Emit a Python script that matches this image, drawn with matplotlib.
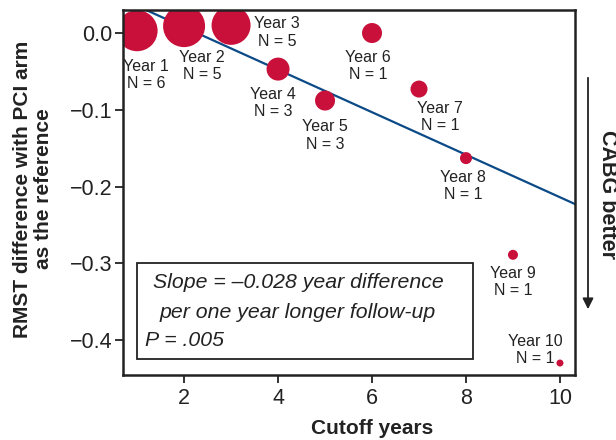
import matplotlib.pyplot as plt
from matplotlib.patches import Rectangle

plt.rcParams['font.family'] = ['Liberation Sans', 'DejaVu Sans']

# cutoff year, RMST difference and number of trials per cutoff
years = [1, 2, 3, 4, 5, 6, 7, 8, 9, 10]
rmst_diff = [0.003, 0.009, 0.010, -0.047, -0.088, 0.0, -0.073, -0.163, -0.289, -0.430]
n_trials = [6, 5, 5, 3, 3, 1, 1, 1, 1, 1]
# bubble diameter (px), i.e. the weight of each estimate
bubble_px = [41, 42, 39, 23, 20, 20, 17, 12, 10, 7]

# meta-regression line
fit_intercept = 0.063
fit_slope = -0.0277
fit_x = [0.7, 10.32]

red = '#c8103a'
blue = '#0b4a87'
ink = '#222222'

fig = plt.figure(figsize=(6.16, 4.4), dpi=100)
ax = fig.add_axes([123 / 616, 1 - 375 / 440, (575 - 123) / 616, (375 - 10) / 440])

ax.plot(fit_x, [fit_intercept + fit_slope * x for x in fit_x], color=blue, lw=1.6, zorder=1)
ax.scatter(years, rmst_diff, s=[(d * 0.72) ** 2 for d in bubble_px], color=red,
           edgecolors='none', zorder=2)

# label offsets in pixels (dx, dy) from each bubble, dy up
offsets = [(9, -44), (18, -40), (46, -7), (-5, -34), (0, -35), (-4, -33),
           (21, -28), (-3, -28), (0, -27), (-25, 13)]
for i, yr in enumerate(years):
    ax.annotate('Year %d\nN = %d' % (yr, n_trials[i]), (yr, rmst_diff[i]),
                xytext=(offsets[i][0] * 0.72, offsets[i][1] * 0.72), textcoords='offset points',
                ha='center', va='center', fontsize=11.5, color=ink, linespacing=1.2)

ax.set_xlim(0.7, 10.32)
ax.set_ylim(-0.4456, 0.030)
ax.set_xticks([2, 4, 6, 8, 10])
ax.set_yticks([0.0, -0.1, -0.2, -0.3, -0.4])
ax.set_yticklabels(['0.0', '\u22120.1', '\u22120.2', '\u22120.3', '\u22120.4'])
ax.tick_params(direction='out', length=5.5, width=1.3, labelsize=15.5, colors=ink)
ax.tick_params(axis='y', pad=2)
ax.tick_params(axis='x', pad=4)
for sp in ax.spines.values():
    sp.set_linewidth(1.8)
    sp.set_color(ink)

fig.text(33 / 616, 1 - 189 / 440, 'RMST difference with PCI arm\nas the reference', rotation=90,
         ha='center', va='center', fontsize=15, fontweight='bold', color=ink,
         linespacing=1.15)
fig.text(372 / 616, 1 - 428 / 440, 'Cutoff years', ha='center', va='center',
         fontsize=15, fontweight='bold', color=ink)

# annotation box
fig.patches.append(Rectangle((137 / 616, 1 - 359 / 440), (473 - 137) / 616, (359 - 263) / 440,
                             transform=fig.transFigure, fill=False, lw=1.3, edgecolor=ink))
fig.text(298 / 616, 1 - 283 / 440, 'Slope = \u20130.028 year difference', ha='center', va='center',
         fontsize=15.3, style='italic', color=ink)
fig.text(298 / 616, 1 - 312 / 440, 'per one year longer follow-up', ha='center', va='center',
         fontsize=15.3, style='italic', color=ink)
fig.text(145 / 616, 1 - 340 / 440, 'P = .005', ha='left', va='center',
         fontsize=15.3, style='italic', color=ink)

# CABG better arrow
ax.annotate('', xy=(588 / 616, 1 - 312 / 440), xytext=(588 / 616, 1 - 75 / 440),
            xycoords='figure fraction', textcoords='figure fraction',
            arrowprops=dict(arrowstyle='-|>', color=ink, lw=1.3, mutation_scale=16))
fig.text(607 / 616, 1 - 194 / 440, 'CABG better', rotation=-90, ha='center', va='center',
         fontsize=15.5, fontweight='bold', color=ink)

fig.savefig('out.png', dpi=100)
